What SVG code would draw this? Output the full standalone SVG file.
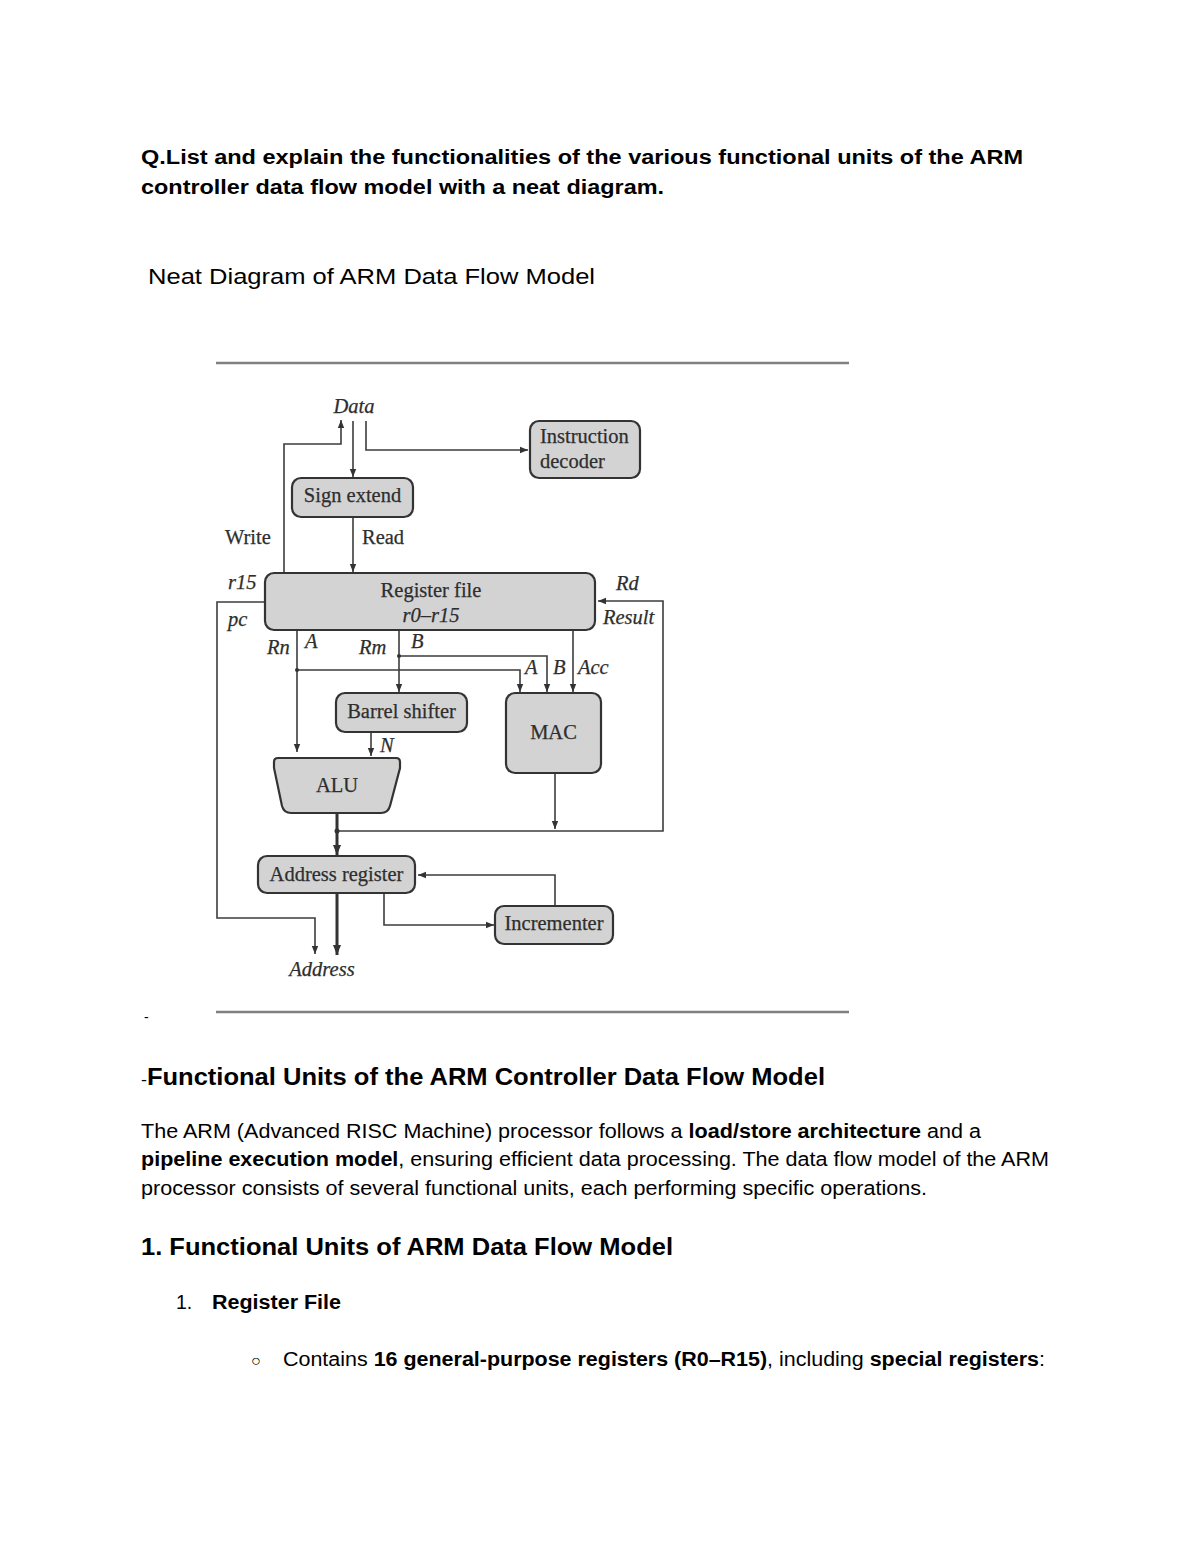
<svg xmlns="http://www.w3.org/2000/svg" width="1200" height="1553" viewBox="0 0 1200 1553">
<style>
.doc{font-family:"Liberation Sans",Arial,sans-serif;fill:#000}
.b{font-weight:bold}
.dg{font-family:"Liberation Serif","Times New Roman",serif;font-size:20.5px;fill:#2e2e2e;stroke:#2e2e2e;stroke-width:0.25}
.it{font-style:italic}
.node{fill:#d3d3d3;stroke:#333;stroke-width:2.2}
.ln{fill:none;stroke:#3c3c3c;stroke-width:1.6}
.thick{fill:none;stroke:#333;stroke-width:3}
.rule{stroke:#808080;stroke-width:2.5}
</style>
<defs>
<marker id="ah" viewBox="0 0 10 10" refX="10" refY="5" markerWidth="10" markerHeight="8" markerUnits="userSpaceOnUse" orient="auto">
<path d="M0,1 L10,5 L0,9 Z" fill="#333"/>
</marker>
<marker id="ahb" viewBox="0 0 10 10" refX="10" refY="5" markerWidth="12" markerHeight="10" markerUnits="userSpaceOnUse" orient="auto">
<path d="M0,1 L10,5 L0,9 Z" fill="#333"/>
</marker>
</defs>
<rect width="1200" height="1553" fill="#fff"/>

<g id="header">
<text class="doc b" x="141" y="164" font-size="20" textLength="882" lengthAdjust="spacingAndGlyphs">Q.List and explain the functionalities of the various functional units of the ARM</text>
<text class="doc b" x="141" y="194" font-size="20" textLength="523" lengthAdjust="spacingAndGlyphs">controller data flow model with a neat diagram.</text>
<text class="doc" x="148" y="284" font-size="22" textLength="447" lengthAdjust="spacingAndGlyphs">Neat Diagram of ARM Data Flow Model</text>
</g>

<line class="rule" x1="216" y1="363" x2="849" y2="363"/>
<line class="rule" x1="216" y1="1012" x2="849" y2="1012"/>

<g id="connectors">
<path class="ln" d="M284,573 V444 H341 V420" marker-end="url(#ah)"/>
<path class="ln" d="M353,421 V477" marker-end="url(#ah)"/>
<path class="ln" d="M366,421 V450 H528" marker-end="url(#ah)"/>
<path class="ln" d="M353,517 V572" marker-end="url(#ah)"/>
<path class="ln" d="M265,602 H217 V918 H315 V954" marker-end="url(#ah)"/>
<path class="ln" d="M555,773 V829" marker-end="url(#ah)"/>
<path class="ln" d="M337,831 H663 V601 H598" marker-end="url(#ah)"/>
<path class="thick" d="M337,813 V855" marker-end="url(#ahb)"/>
<path class="ln" d="M297,630 V752" marker-end="url(#ah)"/>
<path class="ln" d="M297,670 H520 V692" marker-end="url(#ah)"/>
<path class="ln" d="M399,630 V692" marker-end="url(#ah)"/>
<path class="ln" d="M399,656 H547 V692" marker-end="url(#ah)"/>
<path class="ln" d="M573,630 V692" marker-end="url(#ah)"/>
<path class="ln" d="M371,732 V756" marker-end="url(#ah)"/>
<path class="ln" d="M555,906 V875 H418" marker-end="url(#ah)"/>
<path class="ln" d="M384,893 V925 H494" marker-end="url(#ah)"/>
<path class="thick" d="M337,893 V955" marker-end="url(#ahb)"/>
<circle cx="297" cy="670" r="2" fill="#333"/>
<circle cx="399" cy="656" r="2" fill="#333"/>
<circle cx="337" cy="831" r="2.5" fill="#333"/>
</g>

<g id="labels">
<text class="dg it" x="354" y="413" text-anchor="middle">Data</text>
<text class="dg" x="225" y="544">Write</text>
<text class="dg" x="362" y="544">Read</text>
<text class="dg it" x="228" y="589">r15</text>
<text class="dg it" x="228" y="626">pc</text>
<text class="dg it" x="616" y="590">Rd</text>
<text class="dg it" x="603" y="624">Result</text>
<text class="dg it" x="267" y="654">Rn</text>
<text class="dg it" x="305" y="648">A</text>
<text class="dg it" x="359" y="654">Rm</text>
<text class="dg it" x="411" y="648">B</text>
<text class="dg it" x="525" y="674">A</text>
<text class="dg it" x="553" y="674">B</text>
<text class="dg it" x="578" y="674">Acc</text>
<text class="dg it" x="380" y="752">N</text>
<text class="dg it" x="322" y="976" text-anchor="middle">Address</text>
</g>

<g id="instruction-decoder">
<rect class="node" x="530" y="421" width="110" height="57" rx="9"/>
<text class="dg" x="540" y="443">Instruction</text>
<text class="dg" x="540" y="468">decoder</text>
</g>

<g id="sign-extend">
<rect class="node" x="292" y="478" width="121" height="39" rx="9"/>
<text class="dg" x="352.5" y="502" text-anchor="middle">Sign extend</text>
</g>

<g id="register-file">
<rect class="node" x="265" y="573" width="330" height="57" rx="9"/>
<text class="dg" x="431" y="597" text-anchor="middle">Register file</text>
<text class="dg it" x="431" y="622" text-anchor="middle">r0–r15</text>
</g>

<g id="barrel-shifter">
<rect class="node" x="336" y="693" width="131" height="39" rx="9"/>
<text class="dg" x="401.5" y="718" text-anchor="middle">Barrel shifter</text>
</g>

<g id="mac">
<rect class="node" x="506" y="693" width="95" height="80" rx="9"/>
<text class="dg" x="553.5" y="739" text-anchor="middle">MAC</text>
</g>

<g id="alu">
<path class="node" d="M278,758 H396 Q400,758 400,762 V768 L390,806 Q388,813 381,813 H291 Q284,813 282,806 L274,768 V762 Q274,758 278,758 Z"/>
<text class="dg" x="337" y="792" text-anchor="middle">ALU</text>
</g>

<g id="address-register">
<rect class="node" x="258" y="856" width="157" height="37" rx="9"/>
<text class="dg" x="336.5" y="881" text-anchor="middle">Address register</text>
</g>

<g id="incrementer">
<rect class="node" x="495" y="906" width="118" height="38" rx="9"/>
<text class="dg" x="554" y="930" text-anchor="middle">Incrementer</text>
</g>

<g id="body">
<text class="doc" x="144" y="1022" font-size="14">-</text>
<text class="doc" x="141" y="1085" font-size="23" textLength="684" lengthAdjust="spacingAndGlyphs"><tspan font-size="16">-</tspan><tspan class="b">Functional Units of the ARM Controller Data Flow Model</tspan></text>
<text class="doc" x="141" y="1138" font-size="19.5" textLength="840" lengthAdjust="spacingAndGlyphs">The ARM (Advanced RISC Machine) processor follows a <tspan class="b">load/store architecture</tspan> and a</text>
<text class="doc" x="141" y="1166" font-size="19.5" textLength="908" lengthAdjust="spacingAndGlyphs"><tspan class="b">pipeline execution model</tspan>, ensuring efficient data processing. The data flow model of the ARM</text>
<text class="doc" x="141" y="1195" font-size="19.5" textLength="786" lengthAdjust="spacingAndGlyphs">processor consists of several functional units, each performing specific operations.</text>
<text class="doc b" x="141" y="1255" font-size="23" textLength="532" lengthAdjust="spacingAndGlyphs">1. Functional Units of ARM Data Flow Model</text>
<text class="doc" x="176" y="1309" font-size="19.5">1.</text>
<text class="doc b" x="212" y="1309" font-size="19.5" textLength="129" lengthAdjust="spacingAndGlyphs">Register File</text>
<text class="doc" x="251" y="1366" font-size="16">○</text>
<text class="doc" x="283" y="1366" font-size="19.5" textLength="762" lengthAdjust="spacingAndGlyphs">Contains <tspan class="b">16 general-purpose registers (R0–R15)</tspan>, including <tspan class="b">special registers</tspan>:</text>
</g>
</svg>
